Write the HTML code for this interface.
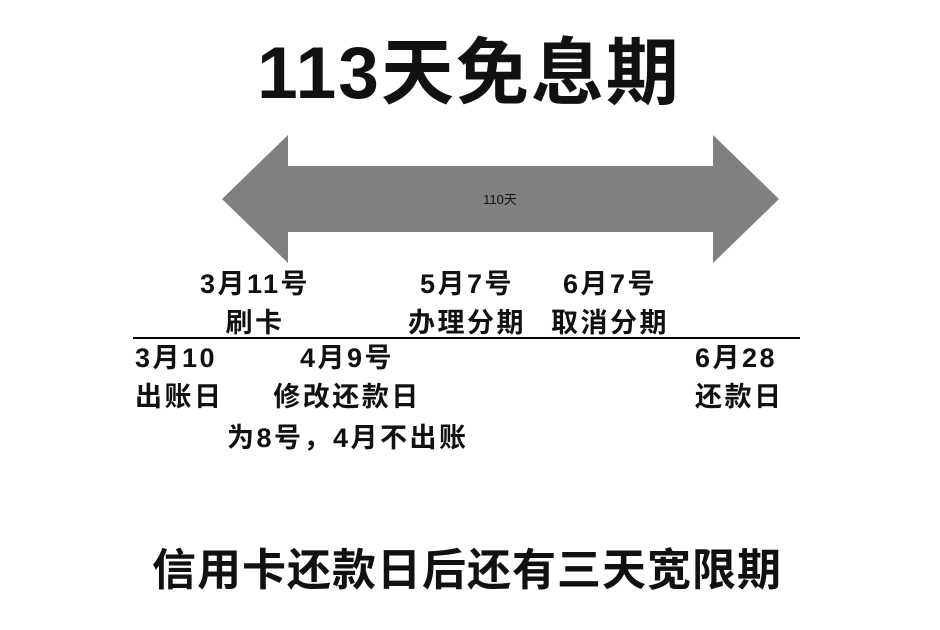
<!DOCTYPE html>
<html><head><meta charset="utf-8"><style>
body{margin:0;width:940px;height:630px;background:#fff;position:relative;overflow:hidden;font-family:"Liberation Sans","Noto Sans CJK SC",sans-serif;font-weight:bold;color:#111}
.t{position:absolute;line-height:1;white-space:nowrap}
.c{transform:translateX(-50%)}
.l{font-size:27px;letter-spacing:2.5px}
</style></head><body>
<div class="t c" style="left:469px;top:37px;font-size:73px;letter-spacing:2px">113天免息期</div>
<svg style="position:absolute;left:0;top:0" width="940" height="630">
<polygon points="222,199 288,135 288,166 713,166 713,135 779,199 713,263 713,232 288,232 288,263" fill="#808080"/>
<text x="500" y="204" font-size="13" font-weight="normal" text-anchor="middle" font-family="Liberation Sans,Noto Sans CJK SC,sans-serif" fill="#111">110天</text>
<line x1="133" y1="338" x2="800" y2="338" stroke="#000" stroke-width="2"/>
</svg>
<div class="t c l" style="left:255px;top:271px">3月11号</div>
<div class="t c l" style="left:255px;top:310px">刷卡</div>
<div class="t c l" style="left:467px;top:271px">5月7号</div>
<div class="t c l" style="left:467px;top:310px">办理分期</div>
<div class="t c l" style="left:610px;top:271px">6月7号</div>
<div class="t c l" style="left:610px;top:310px">取消分期</div>
<div class="t l" style="left:135px;top:345px">3月10</div>
<div class="t l" style="left:135px;top:384px">出账日</div>
<div class="t c l" style="left:347px;top:345px">4月9号</div>
<div class="t c l" style="left:347px;top:384px">修改还款日</div>
<div class="t l" style="left:227px;top:425px">为8号，4月不出账</div>
<div class="t l" style="left:695px;top:345px">6月28</div>
<div class="t l" style="left:695px;top:384px">还款日</div>
<div class="t c" style="left:467px;top:549px;font-size:44px;letter-spacing:1px">信用卡还款日后还有三天宽限期</div>
</body></html>
